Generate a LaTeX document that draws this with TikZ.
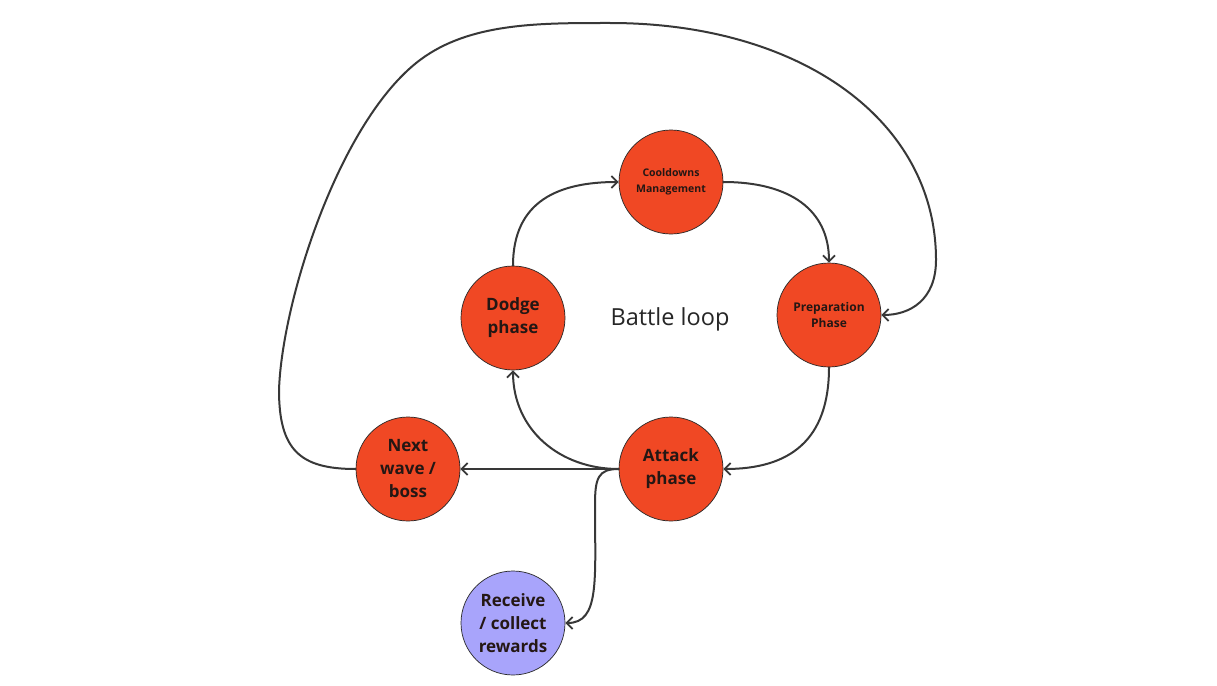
\documentclass[tikz,border=0pt]{standalone}
\usepackage{fontspec}
\setmainfont{Open Sans}
\usetikzlibrary{arrows.meta}
\definecolor{nodered}{HTML}{F04824}
\definecolor{nodepurple}{HTML}{A8A4FB}
\definecolor{edgegray}{HTML}{383838}
\definecolor{txt}{HTML}{241714}
\begin{document}
\begin{tikzpicture}[x=1pt,y=-1pt,
  phase/.style={circle, draw=black!85, line width=0.7pt, fill=nodered, minimum size=104pt, inner sep=0pt, align=center, text=txt},
  bigtext/.style={font=\bfseries\fontsize{17}{23}\selectfont},
  conn/.style={draw=edgegray, line width=2pt, line cap=round, -{Straight Barb[length=6pt,width=12pt,line width=1.8pt]}}]
\useasboundingbox (0,0) rectangle (1217,685);
\fill[white] (0,0) rectangle (1217,685);

\node[phase, font=\bfseries\fontsize{10.5}{15.5}\selectfont] (cool) at (671,182) {Cooldowns\\Management};
\node[phase, font=\bfseries\fontsize{12}{15.5}\selectfont] (prep) at (829,315) {Preparation\\Phase};
\node[phase, bigtext] (dodge) at (513,318) {Dodge\\phase};
\node[phase, bigtext] (att) at (671,469) {Attack\\phase};
\node[phase, bigtext] (next) at (408,469) {Next\\wave /\\boss};
\node[phase, bigtext, fill=nodepurple] (rec) at (513,623) {Receive\\/ collect\\rewards};
\node[font=\fontsize{23.5}{28}\selectfont, text=black!85] (title) at (670,319) {Battle loop};

\draw[conn] (dodge.north) .. controls (513,200) and (560,182) .. (cool.west);
\draw[conn] (cool.east) .. controls (790,182) and (829,210) .. (prep.north);
\draw[conn] (prep.south) .. controls (829,440) and (790,469) .. (att.east);
\draw[conn] (att.west) .. controls (560,469) and (513,430) .. (dodge.south);
\draw[conn] (att.west) -- (next.east);
\draw[conn] (att.west) .. controls (598,469) and (595,478) .. (595,505)
  .. controls (595,580) and (600,623) .. (rec.east);
\draw[conn] (next.west) .. controls (300,469) and (279,450) .. (279,390)
  .. controls (282,300) and (340,120) .. (420,60)
  .. controls (470,22.5) and (540,23) .. (610,23)
  .. controls (800,23) and (936,120) .. (936,260)
  .. controls (936,300) and (910,315) .. (prep.east);
\end{tikzpicture}
\end{document}
